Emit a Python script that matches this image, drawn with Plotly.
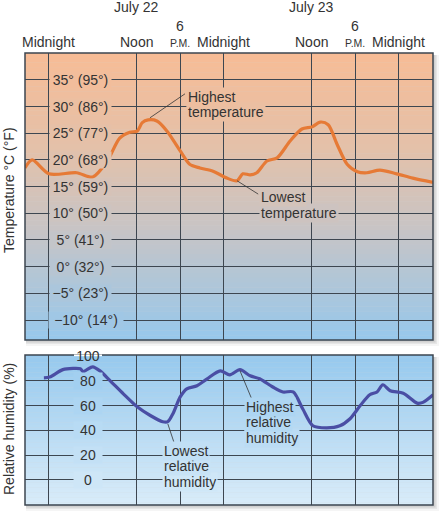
import plotly.graph_objects as go

# ---------------- data ----------------
temp_hours = [-3.3, -2.3, 0.0, 3.8, 6.0, 8.0, 9.7, 11.1, 12.1, 12.8, 13.6, 14.8, 16.2, 18.0,
              19.3, 20.7, 22.5, 24.4, 25.8, 26.6, 27.6, 28.5, 29.9, 31.3, 33.1, 34.7, 36.1,
              37.2, 38.3, 39.5, 40.9, 42.3, 43.6, 45.4, 47.7, 49.9, 52.7]
temp_c = [18.5, 20.0, 17.4, 17.6, 16.8, 19.8, 24.1, 25.2, 25.4, 27.0, 27.5, 27.3, 25.4, 21.7,
          19.2, 18.5, 17.9, 16.6, 16.1, 17.4, 17.2, 17.6, 19.8, 20.4, 23.6, 25.8, 26.2,
          27.1, 26.6, 23.0, 19.2, 17.8, 17.6, 18.1, 17.4, 16.6, 15.8]

hum_hours = [-0.7, 0.1, 1.9, 3.3, 4.3, 4.7, 5.2, 6.0, 7.0, 8.4, 10.2, 12.1, 13.9, 15.6, 16.3,
             17.0, 18.0, 18.9, 20.3, 21.7, 23.5, 24.8, 26.2, 27.6, 28.9, 30.7, 32.1, 33.5,
             34.8, 36.2, 38.1, 39.9, 41.3, 42.7, 44.0, 45.0, 45.8, 46.8, 48.6, 50.5, 51.3, 52.7]
hum_pct = [82.4, 83, 89, 90, 89.7, 87.3, 89, 91.3, 88, 80, 69.5, 59, 52, 47, 47,
           53.4, 67, 73.5, 76, 81.6, 88, 84.8, 89, 84, 81.6, 75, 71, 71,
           57.4, 43.7, 42, 43.7, 49.4, 60, 68.7, 71, 76.8, 72, 70, 62, 62.6, 68.7]

time_ticks = [0, 12, 18, 24, 36, 42, 48]
time_labels = ["Midnight", "Noon", "6 P.M.", "Midnight", "Noon", "6 P.M.", "Midnight"]
day_ticks = [12, 36]
day_labels = ["July 22", "July 23"]

temp_ticks = [35, 30, 25, 20, 15, 10, 5, 0, -5, -10]
temp_labels = ["35° (95°)", "30° (86°)", "25° (77°)", "20° (68°)", "15° (59°)",
               "10° (50°)", "5° (41°)", "0° (32°)", "\u22125° (23°)", "\u221210° (14°)"]
hum_ticks = [100, 80, 60, 40, 20, 0]
hum_labels = ["100", "80", "60", "40", "20", "0"]

# callouts: (text lines, anchor point on curve, label end point)
temp_callouts = [
    (["Highest", "temperature"], (13.85, 27.9), (18.66, 32.4)),
    (["Lowest", "temperature"], (25.8, 16.1), (28.7, 13.6)),
]
hum_callouts = [
    (["Lowest", "relative", "humidity"], (16.3, 45.3), (17.3, 27.6)),
    (["Highest", "relative", "humidity"], (26.2, 88.1), (27.8, 65.5)),
]

# ---------------- geometry / style ----------------
W, H = 441, 514
ML, MR, MT, MB = 25, 8, 53, 9
PW, PH = W - ML - MR, H - MT - MB
TOP_PX = (53, 340)
BOT_PX = (355, 505)
X_RANGE = [-3.29, 52.68]
T_RANGE = [-13.75, 40.05]
H_RANGE = [-20.2, 100.8]
FONT = "Liberation Sans, Arial, sans-serif"
FS = 14
TXT = "#333333"
GRID = "#3d4650"


def px(x):
    return (x - ML) / PW


def py(y):
    return (H - MB - y) / PH


def hex2rgb(h):
    h = h.lstrip("#")
    return tuple(int(h[i:i + 2], 16) for i in (0, 2, 4))


def grad(stops, f):
    for (f0, c0), (f1, c1) in zip(stops, stops[1:]):
        if f0 <= f <= f1:
            t = (f - f0) / (f1 - f0) if f1 > f0 else 0
            a, b = hex2rgb(c0), hex2rgb(c1)
            return "rgb(%d,%d,%d)" % tuple(round(a[i] + (b[i] - a[i]) * t) for i in range(3))
    return stops[-1][1]


TOP_STOPS = [(0, "#f8bc95"), (0.35, "#e2c1ab"), (0.6, "#c9c4c4"), (1, "#97c8ec")]
BOT_STOPS = [(0, "#96c9ee"), (1, "#d9ecf9")]


def color_at(ypx):
    if ypx <= TOP_PX[1] + 2:
        return grad(TOP_STOPS, min(max((ypx - TOP_PX[0]) / (TOP_PX[1] - TOP_PX[0]), 0), 1))
    return grad(BOT_STOPS, min(max((ypx - BOT_PX[0]) / (BOT_PX[1] - BOT_PX[0]), 0), 1))


top_dom = [py(TOP_PX[1]), py(TOP_PX[0])]
bot_dom = [py(BOT_PX[1]), py(BOT_PX[0])]

fig = go.Figure()
fig.add_trace(go.Scatter(x=temp_hours, y=temp_c, mode="lines", xaxis="x", yaxis="y",
                         line=dict(color="#e67a36", width=3.2, shape="spline", smoothing=0.8),
                         hoverinfo="skip", showlegend=False))
fig.add_trace(go.Scatter(x=hum_hours, y=hum_pct, mode="lines", xaxis="x", yaxis="y2",
                         line=dict(color="#4a4ea4", width=3.2, shape="spline", smoothing=0.8),
                         hoverinfo="skip", showlegend=False))


def tpx(v):  # temperature value -> pixel y
    return TOP_PX[0] + (T_RANGE[1] - v) / (T_RANGE[1] - T_RANGE[0]) * (TOP_PX[1] - TOP_PX[0])


def hpx(v):
    return BOT_PX[0] + (H_RANGE[1] - v) / (H_RANGE[1] - H_RANGE[0]) * (BOT_PX[1] - BOT_PX[0])


def xpx(h):
    return ML + (h - X_RANGE[0]) / (X_RANGE[1] - X_RANGE[0]) * PW


shapes = []
# drop shadows
for (y0, y1) in (TOP_PX, BOT_PX):
    for k, op in ((6, 0.05), (4, 0.08), (2.5, 0.12)):
        shapes.append(dict(type="rect", xref="paper", yref="paper", layer="below",
                           x0=px(ML + 1), x1=px(W - MR + k), y0=py(y1 + k), y1=py(y0 + 2),
                           line=dict(width=0), fillcolor="rgba(60,60,60,%g)" % op))
# gradient backgrounds
for (y0, y1) in (TOP_PX, BOT_PX):
    n = 60
    for i in range(n):
        a = y0 + (y1 - y0) * i / n
        b = y0 + (y1 - y0) * (i + 1) / n
        shapes.append(dict(type="rect", xref="paper", yref="paper", layer="below",
                           x0=0, x1=1, y0=py(b + 0.3), y1=py(a),
                           line=dict(width=0), fillcolor=color_at((a + b) / 2)))
# frames
for yr in ("y domain", "y2 domain"):
    shapes.append(dict(type="rect", xref="x domain", yref=yr, layer="above",
                       x0=0, x1=1, y0=0, y1=1, line=dict(color=GRID, width=1.5)))
# gap in the top frame line where the "100" label sits
shapes.append(dict(type="rect", xref="paper", yref="paper", layer="above",
                   x0=px(88 - 14), x1=px(88 + 14), y0=py(hpx(100) + 2), y1=py(hpx(100) - 1.5),
                   line=dict(width=0), fillcolor="white"))
shapes.append(dict(type="rect", xref="paper", yref="paper", layer="above",
                   x0=px(88 - 14), x1=px(88 + 14), y0=py(hpx(100) + 2), y1=py(hpx(100) + 0.2),
                   line=dict(width=0), fillcolor=color_at(BOT_PX[0] + 1)))
# leader lines
for lines, (ax_, ay_), (bx, by) in temp_callouts:
    shapes.append(dict(type="line", xref="x", yref="y", x0=ax_, y0=ay_, x1=bx, y1=by,
                       line=dict(color="#333333", width=0.8)))
for lines, (ax_, ay_), (bx, by) in hum_callouts:
    shapes.append(dict(type="line", xref="x", yref="y2", x0=ax_, y0=ay_, x1=bx, y1=by,
                       line=dict(color="#333333", width=0.8)))

ann = []

# y tick labels as in-panel labels that break the gridlines
for v, t in zip(temp_ticks, temp_labels):
    wide = t.startswith("\u221210")
    ann.append(dict(xref="paper", yref="y", x=px(86 if wide else 80.5), y=v, text=t,
                    showarrow=False, xanchor="center", yanchor="middle",
                    width=74 if wide else 61, height=16, borderpad=0,
                    bgcolor=color_at(tpx(v)), font=dict(family=FONT, size=FS, color=TXT)))
for v, t in zip(hum_ticks, hum_labels):
    ann.append(dict(xref="paper", yref="y2", x=px(88), y=v, text=t,
                    showarrow=False, xanchor="center", yanchor="middle",
                    width=28, height=16, borderpad=0,
                    bgcolor="rgba(0,0,0,0)" if v == 100 else color_at(hpx(v)),
                    font=dict(family=FONT, size=FS, color=TXT)))

# time labels on top
for h, t in zip(time_ticks, time_labels):
    if t.startswith("6 "):
        ann.append(dict(xref="x", yref="paper", x=h, y=py(26), text="6", showarrow=False,
                        xanchor="center", yanchor="middle",
                        font=dict(family=FONT, size=FS, color=TXT)))
        ann.append(dict(xref="x", yref="paper", x=h, y=py(43), text=t[2:], showarrow=False,
                        xanchor="center", yanchor="middle",
                        font=dict(family=FONT, size=10.5, color=TXT)))
    else:
        ann.append(dict(xref="x", yref="paper", x=h, y=py(42), text=t, showarrow=False,
                        xanchor="center", yanchor="middle",
                        font=dict(family=FONT, size=FS, color=TXT)))
for h, t in zip(day_ticks, day_labels):
    ann.append(dict(xref="x", yref="paper", x=h, y=py(7), text=t, showarrow=False,
                    xanchor="center", yanchor="middle",
                    font=dict(family=FONT, size=FS, color=TXT)))

# axis titles
ann.append(dict(xref="paper", yref="paper", x=px(9), y=py(190), text="Temperature °C (°F)",
                textangle=-90, showarrow=False, xanchor="center", yanchor="middle",
                font=dict(family=FONT, size=FS, color=TXT)))
ann.append(dict(xref="paper", yref="paper", x=px(9), y=py(429), text="Relative humidity (%)",
                textangle=-90, showarrow=False, xanchor="center", yanchor="middle",
                font=dict(family=FONT, size=FS, color=TXT)))

# callout texts, one box per line (lower lines first so upper descenders stay visible)
LINE_GAP = 15.5


def add_callout(lines, x0, y_first):
    for i in reversed(range(len(lines))):
        yy = y_first + i * LINE_GAP
        ann.append(dict(xref="paper", yref="paper", x=px(x0), y=py(yy), text=lines[i],
                        showarrow=False, xanchor="left", yanchor="middle", borderpad=1,
                        bgcolor=color_at(yy), font=dict(family=FONT, size=FS, color=TXT)))


for lines, _, (bx, by) in temp_callouts:
    add_callout(lines, xpx(bx) + 1, tpx(by) + 3)
for lines, _, (bx, by) in hum_callouts:
    if lines[0] == "Lowest":
        add_callout(lines, xpx(bx) - 13, hpx(by) + 5)
    else:
        add_callout(lines, xpx(bx) - 8, hpx(by) + 8)

grid_common = dict(showgrid=True, gridcolor=GRID, gridwidth=1, zeroline=False,
                   showticklabels=False, ticks="", showline=False, fixedrange=True)
fig.update_layout(
    width=W, height=H,
    margin=dict(l=ML, r=MR, t=MT, b=MB, pad=0),
    paper_bgcolor="white", plot_bgcolor="rgba(0,0,0,0)",
    xaxis=dict(range=X_RANGE, tickmode="array", tickvals=time_ticks, anchor="y2",
               domain=[0, 1], **grid_common),
    yaxis=dict(range=T_RANGE, tickmode="array", tickvals=temp_ticks, domain=top_dom,
               anchor="x", **grid_common),
    yaxis2=dict(range=H_RANGE, tickmode="array", tickvals=hum_ticks, domain=bot_dom,
                anchor="x", **grid_common),
    shapes=shapes, annotations=ann,
    font=dict(family=FONT, color=TXT),
)

fig.write_html("out.html", config={"displayModeBar": False},
               post_script="document.body.style.margin='0';document.body.style.overflow='hidden';")
